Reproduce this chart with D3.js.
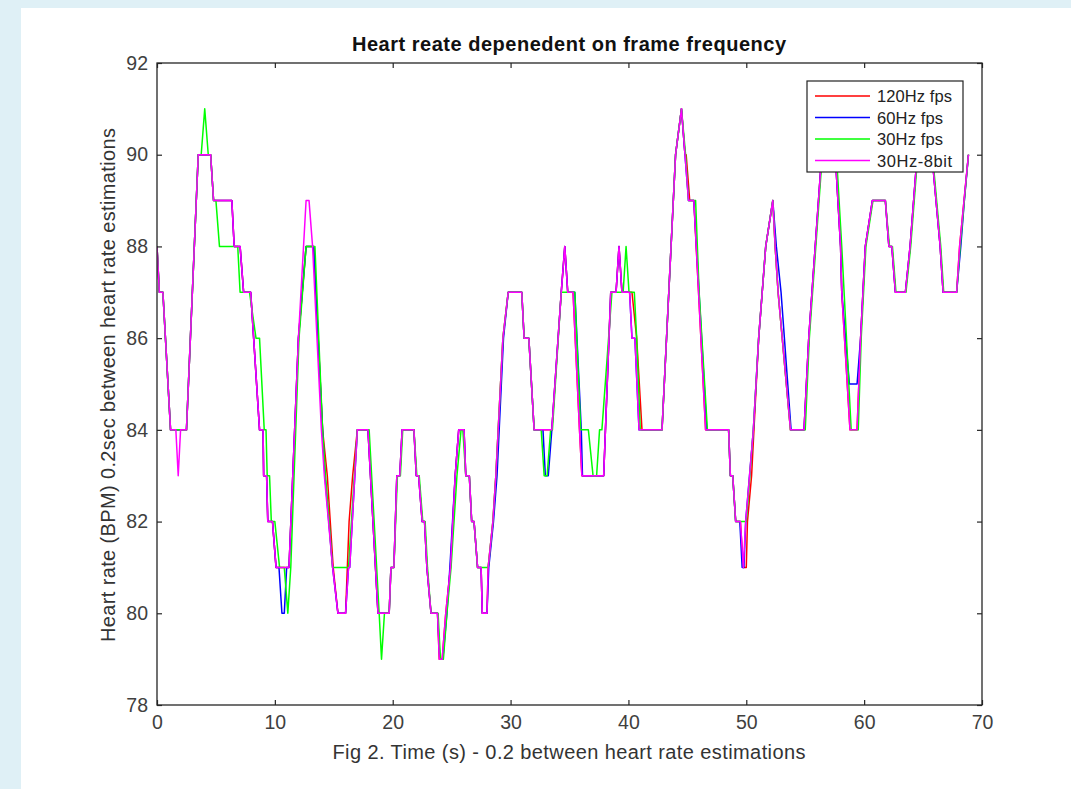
<!DOCTYPE html>
<html><head><meta charset="utf-8">
<script src="https://cdn.jsdelivr.net/npm/d3@7"></script>
<style>body{margin:0;background:#fff;} svg{display:block;}</style>
</head><body>
<svg id="chart" width="1071" height="789"></svg>
<script>
// ---------------- data ----------------
const xTickValues = [0, 10, 20, 30, 40, 50, 60, 70];
const yTickValues = [78, 80, 82, 84, 86, 88, 90, 92];
const seriesNames = ["120Hz fps", "60Hz fps", "30Hz fps", "30Hz-8bit"];
const chartTitle = "Heart reate depenedent on frame frequency";
const xLabel = "Fig 2. Time (s) - 0.2 between heart rate estimations";
const yLabel = "Heart rate (BPM) 0.2sec between heart rate estimations";

// [time (s), heart rate (BPM)] vertices of each trace
const hz120 = [[0,88],[0.2,87],[0.5,87],[1.15,84],[2.5,84],[3.5,90],[4.55,90],[4.8,89],[6.35,89],[6.55,88],[7.05,88],[7.35,87],[7.95,87],[8.7,84],[9.0,84],[9.05,83],[9.3,83],[9.4,82],[9.8,82],[10.1,81],[11.2,81],[12.0,86],[12.65,88],[13.3,88],[14.05,84],[14.45,83],[14.95,81],[15.35,80],[16.0,80],[16.15,81],[16.3,82],[16.6,83],[17.0,84],[17.9,84],[18.75,80],[19.7,80],[19.85,81],[20.1,81],[20.35,83],[20.6,83],[20.8,84],[21.8,84],[22.0,83],[22.2,83],[22.5,82],[22.7,82],[22.9,81],[23.25,80],[23.8,80],[23.95,79],[24.2,79],[24.5,80],[24.9,81],[25.3,83],[25.6,84],[26.05,84],[26.2,83],[26.5,83],[26.7,82],[26.9,82],[27.2,81],[27.5,81],[27.6,80],[28.0,80],[28.1,81],[28.5,82],[28.75,83],[29.35,86],[29.8,87],[30.95,87],[31.15,86],[31.55,86],[32.0,84],[33.5,84],[34.3,87],[34.6,88],[34.85,87],[35.3,87],[35.85,84],[36.05,83],[37.9,83],[38.5,87],[38.95,87],[39.2,88],[39.45,87],[40.3,87],[40.7,86],[41.15,84],[42.85,84],[44.0,90],[44.5,91],[44.8,90],[44.9,90],[45.2,89],[45.55,89],[46.55,84],[48.5,84],[48.65,83],[48.85,83],[49.1,82],[49.5,82],[49.75,81],[50.0,81],[50.1,82],[50.45,83],[50.65,84],[51.05,86],[51.65,88],[52.25,89],[52.45,88],[52.7,87],[53.75,84],[54.9,84],[55.3,86],[55.85,88],[56.4,90],[57.55,90],[58.0,88],[58.1,87],[58.8,84],[59.4,84],[59.7,86],[60.1,88],[60.7,89],[61.8,89],[62.1,88],[62.35,88],[62.65,87],[63.5,87],[63.9,88],[64.5,90],[65.75,90],[66.45,88],[66.7,87],[67.85,87],[68.1,88],[68.85,90]];

const hz60 = [[0,88],[0.2,87],[0.5,87],[1.15,84],[2.5,84],[3.5,90],[4.55,90],[4.8,89],[6.35,89],[6.55,88],[7.05,88],[7.35,87],[7.95,87],[8.7,84],[9.0,84],[9.05,83],[9.3,83],[9.4,82],[9.8,82],[10.1,81],[10.35,81],[10.6,80],[10.8,80],[11.0,81],[11.2,81],[12.0,86],[12.65,88],[13.3,88],[14.05,84],[14.25,83],[14.9,81],[15.35,80],[16.0,80],[16.25,81],[16.35,81],[17.0,84],[17.9,84],[18.75,80],[19.7,80],[19.85,81],[20.1,81],[20.35,83],[20.6,83],[20.8,84],[21.8,84],[22.0,83],[22.2,83],[22.5,82],[22.7,82],[22.9,81],[23.25,80],[23.8,80],[24.0,79],[24.25,79],[24.6,80],[24.85,81],[25.3,83],[25.6,84],[26.05,84],[26.2,83],[26.5,83],[26.7,82],[26.9,82],[27.2,81],[27.5,81],[27.6,80],[28.0,80],[28.15,81],[28.55,82],[28.85,83],[29.4,86],[29.8,87],[30.95,87],[31.15,86],[31.55,86],[32.0,84],[32.75,84],[32.95,83],[33.2,83],[33.5,84],[34.3,87],[34.6,88],[34.85,87],[35.45,87],[36.0,84],[36.1,83],[37.9,83],[38.5,87],[38.95,87],[39.2,88],[39.45,87],[40.1,87],[40.3,86],[40.55,86],[40.9,84],[42.85,84],[44.0,90],[44.5,91],[45.1,89],[45.55,89],[46.65,84],[48.5,84],[48.65,83],[48.85,83],[49.1,82],[49.45,82],[49.65,81],[49.8,81],[49.95,82],[50.6,84],[51.05,86],[51.65,88],[52.25,89],[52.55,88],[52.95,87],[53.8,84],[54.9,84],[55.3,86],[55.85,88],[56.4,90],[57.55,90],[58.0,88],[58.1,87],[58.75,85],[59.4,85],[59.7,86],[60.1,88],[60.7,89],[61.8,89],[62.1,88],[62.35,88],[62.65,87],[63.5,87],[63.9,88],[64.5,90],[65.75,90],[66.45,88],[66.7,87],[67.85,87],[68.2,88],[68.5,89],[68.85,90]];

const hz30 = [[0,88],[0.2,87],[0.5,87],[1.15,84],[2.5,84],[3.5,90],[3.75,90],[4.05,91],[4.35,90],[4.55,90],[4.8,89],[5.0,89],[5.3,88],[6.85,88],[7.05,87],[7.85,87],[8.4,86],[8.7,86],[9.1,84],[9.25,84],[9.35,83],[9.55,83],[9.7,82],[10.0,82],[10.4,81],[10.8,81],[11.1,80],[11.35,81],[12.05,86],[12.65,88],[13.4,88],[14.05,84],[14.3,83],[14.9,81],[16.25,81],[17.0,84],[18.0,84],[18.85,80],[19.05,79],[19.3,80],[19.7,80],[19.85,81],[20.1,81],[20.4,83],[20.65,83],[20.85,84],[21.8,84],[22.05,83],[22.25,83],[22.55,82],[22.75,82],[22.95,81],[23.25,80],[23.85,80],[24.05,79],[24.3,79],[24.6,80],[24.95,81],[25.45,83],[25.8,84],[25.95,84],[26.2,83],[26.5,83],[26.7,82],[26.9,82],[27.2,81],[28.1,81],[28.5,82],[28.75,83],[29.35,86],[29.8,87],[30.95,87],[31.15,86],[31.55,86],[32.0,84],[32.6,84],[32.85,83],[33.1,83],[33.4,84],[33.55,84],[34.3,87],[35.45,87],[35.95,84],[36.6,84],[37.0,83],[37.3,83],[37.55,84],[37.75,84],[38.6,87],[39.55,87],[39.8,88],[40.05,87],[40.5,87],[40.7,86],[41.0,84],[42.85,84],[44.0,90],[44.5,91],[44.85,90],[45.1,89],[45.7,89],[46.0,87],[46.7,84],[48.5,84],[48.65,83],[48.85,83],[49.1,82],[49.6,82],[50.0,82],[50.6,84],[51.05,86],[51.65,88],[52.25,89],[52.45,88],[52.7,87],[53.75,84],[55.0,84],[55.35,86],[55.9,88],[56.45,90],[57.65,90],[58.1,88],[58.9,84],[59.5,84],[59.75,86],[60.15,88],[60.75,89],[61.8,89],[62.15,88],[62.4,88],[62.7,87],[63.55,87],[63.95,88],[64.55,90],[65.8,90],[66.5,88],[66.75,87],[67.85,87],[68.15,88],[68.85,90]];

const hz30bit8 = [[0,88],[0.2,87],[0.5,87],[1.15,84],[1.6,84],[1.8,83],[2.0,84],[2.5,84],[3.5,90],[4.55,90],[4.8,89],[6.35,89],[6.55,88],[7.05,88],[7.35,87],[7.95,87],[8.7,84],[9.0,84],[9.05,83],[9.3,83],[9.4,82],[9.8,82],[10.1,81],[11.2,81],[12.0,86],[12.65,89],[12.9,89],[13.2,88],[13.95,84],[14.2,83],[14.9,81],[15.35,80],[16.0,80],[16.25,81],[16.35,81],[17.0,84],[17.9,84],[18.75,80],[19.7,80],[19.85,81],[20.1,81],[20.35,83],[20.6,83],[20.8,84],[21.8,84],[22.0,83],[22.2,83],[22.5,82],[22.7,82],[22.9,81],[23.25,80],[23.8,80],[23.95,79],[24.2,79],[24.5,80],[24.9,81],[25.3,83],[25.6,84],[26.05,84],[26.2,83],[26.5,83],[26.7,82],[26.9,82],[27.2,81],[27.5,81],[27.6,80],[28.0,80],[28.1,81],[28.5,82],[28.75,83],[29.35,86],[29.8,87],[30.95,87],[31.15,86],[31.55,86],[32.0,84],[33.5,84],[34.3,87],[34.6,88],[34.85,87],[35.3,87],[35.85,84],[36.05,83],[37.9,83],[38.5,87],[38.95,87],[39.2,88],[39.45,87],[40.1,87],[40.3,86],[40.55,86],[40.9,84],[42.85,84],[44.0,90],[44.5,91],[45.1,89],[45.55,89],[46.55,84],[48.5,84],[48.65,83],[48.85,83],[49.1,82],[49.5,82],[49.75,81],[49.95,82],[50.6,84],[51.05,86],[51.65,88],[52.25,89],[52.45,88],[52.7,87],[53.75,84],[54.9,84],[55.3,86],[55.85,88],[56.4,90],[57.55,90],[58.0,88],[58.1,87],[58.8,84],[59.4,84],[59.7,86],[60.1,88],[60.7,89],[61.8,89],[62.1,88],[62.35,88],[62.65,87],[63.5,87],[63.9,88],[64.5,90],[65.75,90],[66.45,88],[66.7,87],[67.85,87],[68.1,88],[68.85,90]];

const seriesData = [hz120, hz60, hz30, hz30bit8];
const seriesColors = ["#ff0000", "#0000ff", "#00ff00", "#ff00ff"];

// ---------------- drawing ----------------
const W = 1071, H = 789;
const plot = {left: 157, right: 982, top: 63, bottom: 705};
const font = "'Liberation Sans', Arial, Helvetica, sans-serif";
const svg = d3.select("#chart");

svg.append("rect").attr("width", W).attr("height", H).attr("fill", "#dff0f6");
svg.append("rect").attr("x", 21).attr("y", 8).attr("width", W - 21).attr("height", H - 8).attr("fill", "#ffffff");

const x = d3.scaleLinear().domain([0, 70]).range([plot.left, plot.right]);
const y = d3.scaleLinear().domain([78, 92]).range([plot.bottom, plot.top]);

svg.append("clipPath").attr("id", "clip").append("rect")
  .attr("x", plot.left).attr("y", plot.top)
  .attr("width", plot.right - plot.left).attr("height", plot.bottom - plot.top);

const line = d3.line().x(d => x(d[0])).y(d => y(d[1]));
const lines = svg.append("g").attr("clip-path", "url(#clip)");
seriesData.forEach((s, i) => {
  lines.append("path").datum(s)
    .attr("d", line)
    .attr("fill", "none")
    .attr("stroke", seriesColors[i])
    .attr("stroke-width", 1.5)
    .attr("stroke-linejoin", "round");
});

// axes (MATLAB style: inward ticks, box)
const axisColor = "#262626";
function styleAxis(g) {
  g.select(".domain").remove();
  g.selectAll(".tick line").attr("stroke", axisColor).attr("stroke-width", 1.2);
  g.selectAll(".tick text").attr("fill", "#404040").attr("font-family", font).attr("font-size", 19.5);
}
svg.append("g").attr("transform", `translate(0,${plot.bottom})`)
  .call(d3.axisBottom(x).tickValues(xTickValues).tickSize(-5).tickPadding(10).tickFormat(d3.format("d")))
  .call(styleAxis);
svg.append("g").attr("transform", `translate(0,${plot.top})`)
  .call(d3.axisTop(x).tickValues(xTickValues).tickSize(-5).tickFormat(""))
  .call(styleAxis);
svg.append("g").attr("transform", `translate(${plot.left},0)`)
  .call(d3.axisLeft(y).tickValues(yTickValues).tickSize(-5).tickPadding(9).tickFormat(d3.format("d")))
  .call(styleAxis);
svg.append("g").attr("transform", `translate(${plot.right},0)`)
  .call(d3.axisRight(y).tickValues(yTickValues).tickSize(-5).tickFormat(""))
  .call(styleAxis);

svg.append("rect").attr("x", plot.left).attr("y", plot.top)
  .attr("width", plot.right - plot.left).attr("height", plot.bottom - plot.top)
  .attr("fill", "none").attr("stroke", axisColor).attr("stroke-width", 1.3);

// title & labels
svg.append("text").attr("x", 569).attr("y", 51).attr("text-anchor", "middle")
  .attr("font-family", font).attr("font-weight", "bold").attr("font-size", 20).attr("fill", "#111")
  .attr("textLength", 434).attr("lengthAdjust", "spacing")
  .text(chartTitle);
svg.append("text").attr("x", 569).attr("y", 759).attr("text-anchor", "middle")
  .attr("font-family", font).attr("font-size", 20).attr("fill", "#333")
  .attr("textLength", 473).attr("lengthAdjust", "spacing")
  .text(xLabel);
svg.append("text").attr("transform", "translate(115,385) rotate(-90)").attr("text-anchor", "middle")
  .attr("font-family", font).attr("font-size", 20).attr("fill", "#333")
  .attr("textLength", 514).attr("lengthAdjust", "spacing")
  .text(yLabel);

// legend
const legendTextWidths = [75, 66, 66, 75];
const lg = svg.append("g");
lg.append("rect").attr("x", 807).attr("y", 81).attr("width", 156).attr("height", 91)
  .attr("fill", "#fff").attr("stroke", "#222").attr("stroke-width", 1.2);
seriesNames.forEach((n, i) => {
  const yy = 96 + i * 21.5;
  lg.append("line").attr("x1", 815).attr("x2", 870).attr("y1", yy).attr("y2", yy)
    .attr("stroke", seriesColors[i]).attr("stroke-width", 1.5);
  lg.append("text").attr("x", 877).attr("y", yy + 6)
    .attr("font-family", font).attr("font-size", 16.5).attr("fill", "#222")
    .attr("textLength", legendTextWidths[i]).attr("lengthAdjust", "spacing")
    .text(n);
});
</script>
</body></html>
